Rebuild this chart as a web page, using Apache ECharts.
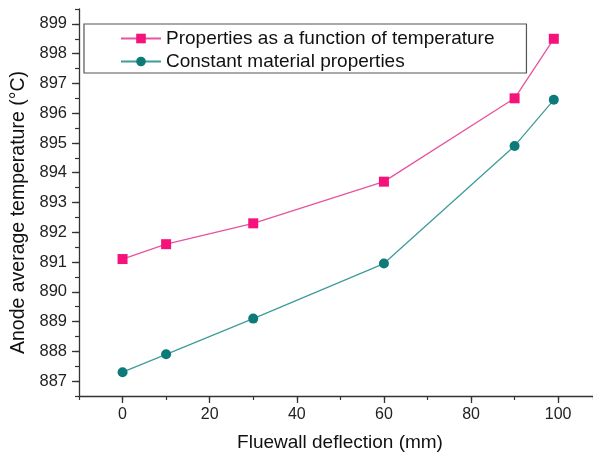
<!DOCTYPE html>
<html>
<head>
<meta charset="utf-8">
<script src="https://cdn.jsdelivr.net/npm/echarts@6/dist/echarts.min.js"></script>
<style>
html, body { margin: 0; padding: 0; background: #fff; }
#chart { width: 593px; height: 454px; }
</style>
</head>
<body>
<div id="chart"></div>
<script>
var deflection = [0, 10, 30, 60, 90, 99];
var tempVarying = [891.1, 891.6, 892.3, 893.7, 896.5, 898.5];
var tempConstant = [887.3, 887.9, 889.1, 890.95, 894.9, 896.45];
var xTicks = [0, 20, 40, 60, 80, 100];
var yTicks = [887, 888, 889, 890, 891, 892, 893, 894, 895, 896, 897, 898, 899];
var names = ['Properties as a function of temperature', 'Constant material properties'];

function pairs(xs, ys) {
    var out = [];
    for (var i = 0; i < xs.length; i++) out.push([xs[i], ys[i]]);
    return out;
}

var font = 'Liberation Sans, Arial, sans-serif';
var axisColor = '#333';

var chart = echarts.init(document.getElementById('chart'));
chart.setOption({
    animation: false,
    textStyle: { fontFamily: font },
    grid: { left: 79, top: 9, right: 0, bottom: 58, containLabel: false, outerBoundsMode: 'none' },
    legend: {
        left: 84, top: 24,
        orient: 'vertical',
        data: names,
        borderColor: '#555', borderWidth: 1.2,
        padding: [5, 32, 2, 36],
        itemWidth: 40, itemHeight: 12, itemGap: 4,
        textStyle: { fontSize: 19, color: '#111', fontFamily: font }
    },
    xAxis: [{
        type: 'value', min: -10, max: 108,
        name: 'Fluewall deflection (mm)', nameLocation: 'middle', nameGap: 37,
        nameTextStyle: { fontSize: 19, color: '#111', fontFamily: font, padding: [0, 0, 0, 8] },
        axisLine: { onZero: false, lineStyle: { color: axisColor, width: 1.3 } },
        axisTick: { customValues: xTicks, length: 7, lineStyle: { color: axisColor, width: 1.3 } },
        axisLabel: { customValues: xTicks, fontSize: 16, color: '#222', margin: 11 },
        splitLine: { show: false }
    }, {
        type: 'value', min: -10, max: 108, interval: 10, position: 'bottom',
        axisLine: { show: false, onZero: false },
        axisTick: { length: 4, lineStyle: { color: axisColor, width: 1.2 } },
        axisLabel: { show: false },
        splitLine: { show: false }
    }],
    yAxis: [{
        type: 'value', min: 886.5, max: 899.5,
        name: 'Anode average temperature (°C)', nameLocation: 'middle', nameGap: 46,
        nameTextStyle: { fontSize: 19.5, color: '#111', fontFamily: font, padding: [0, 20, 0, 0] },
        axisLine: { onZero: false, lineStyle: { color: axisColor, width: 1.3 } },
        axisTick: { customValues: yTicks, length: 7, lineStyle: { color: axisColor, width: 1.3 } },
        axisLabel: { customValues: yTicks, fontSize: 16.5, color: '#222', margin: 12 },
        splitLine: { show: false }
    }, {
        type: 'value', min: 886.5, max: 899.5, interval: 0.5, position: 'left',
        axisLine: { show: false, onZero: false },
        axisTick: { length: 4, lineStyle: { color: axisColor, width: 1.2 } },
        axisLabel: { show: false },
        splitLine: { show: false }
    }],
    series: [{
        name: names[0], type: 'line',
        data: pairs(deflection, tempVarying),
        symbol: 'rect', symbolSize: 10,
        itemStyle: { color: '#f5127a' },
        lineStyle: { color: '#e8539f', width: 1.3 }
    }, {
        name: names[1], type: 'line',
        data: pairs(deflection, tempConstant),
        symbol: 'circle', symbolSize: 10,
        itemStyle: { color: '#0b7a78' },
        lineStyle: { color: '#3f9c9a', width: 1.3 }
    }]
});
</script>
</body>
</html>
